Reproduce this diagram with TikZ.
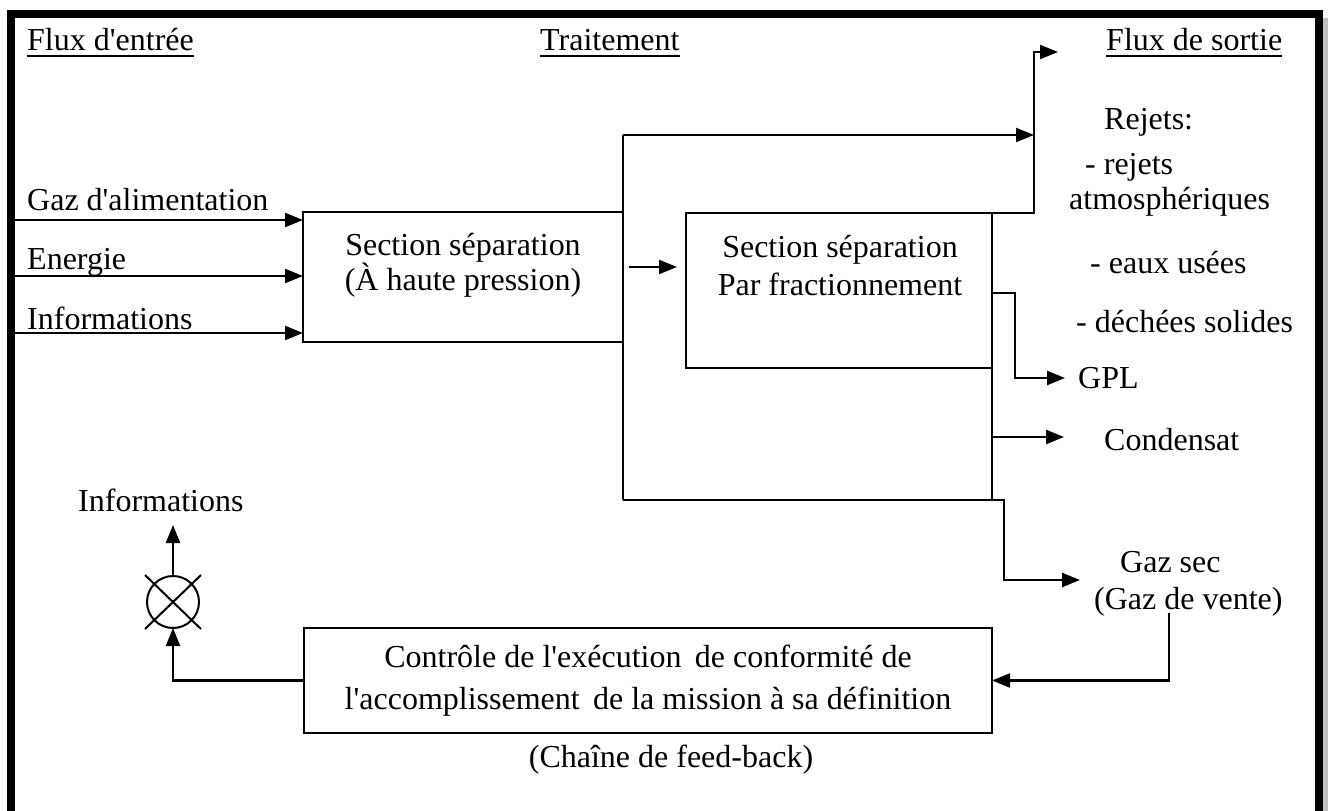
\documentclass[tikz,border=0pt]{standalone}
\usepackage{fontspec}
\setmainfont{Liberation Serif}[Ligatures=TeXOff]
\usetikzlibrary{arrows.meta}
\begin{document}
\begin{tikzpicture}[x=1pt,y=-1pt,
  ln/.style={line width=2.4pt},
  arr/.style={line width=2.4pt,-{Triangle[length=18pt,width=14pt]}},
  box/.style={draw,line width=2.4pt,inner sep=0pt,outer sep=0pt,anchor=north west},
  txt/.style={inner sep=0pt,font=\fontsize{32}{36}\selectfont},
  ul/.style={line width=2pt}]
\useasboundingbox (0,0) rectangle (1328,811);
% frame
\fill[gray!50] (1323,18) rectangle (1328,811);
\draw[line width=8pt] (11,811) -- (11,14) -- (1319,14) -- (1319,811);

% headers
\node[txt,anchor=base west] (hin) at (27,50) {Flux d'entrée};
\node[txt,anchor=base west] (htr) at (540,50) {Traitement};
\node[txt,anchor=base west] (hout) at (1106,50) {Flux de sortie};
\draw[ul] ([yshift=-6pt]hin.base west) -- ([yshift=-6pt]hin.base east);
\draw[ul] ([yshift=-6pt]htr.base west) -- ([yshift=-6pt]htr.base east);
\draw[ul] ([yshift=-6pt]hout.base west) -- ([yshift=-6pt]hout.base east);

% boxes
\node[box,minimum width=320pt,minimum height=130pt] (b1) at (303,212) {};
\node[txt,align=center,font=\fontsize{32}{35}\selectfont] (b1t) at (463,265) {Section séparation\\(À haute pression)};
\node[box,minimum width=306pt,minimum height=155pt] (b2) at (686,213) {};
\node[txt,align=center,font=\fontsize{32}{38}\selectfont] (b2t) at (840,266) {Section séparation\\Par fractionnement};
\node[box,minimum width=688pt,minimum height=105pt] (b3) at (304,628) {};
\node[txt,align=center,font=\fontsize{32}{42}\selectfont] (b3t) at (648,681) {Contrôle de l'exécution\, de conformité de\\l'accomplissement\, de la mission à sa définition};
\node[txt] (fbl) at (671,760) {(Chaîne de feed-back)};

% inputs
\node[txt,anchor=base west] (lA) at (27,210) {Gaz d'alimentation};
\node[txt,anchor=base west] (lB) at (27,269) {Energie};
\node[txt,anchor=base west] (lC) at (27,329) {Informations};
\coordinate (inA) at (15,220);
\coordinate (inB) at (15,276);
\coordinate (inC) at (15,333);
\draw[arr] (inA) -- (inA -| b1.west);
\draw[arr] (inB) -- (inB -| b1.west);
\draw[arr] (inC) -- (inC -| b1.west);

% junction after box 1
\coordinate (jT) at (623,135);
\coordinate (jB) at (623,500);
\coordinate (vR) at (1034,213);
\coordinate (vU) at (1034,52);
\coordinate (oTop) at (1058,52);
\draw[ln] (jT) -- (jB);
\draw[arr] (jT) -- (jT -| vR);
\draw[arr] (b2.north east) -- (vR) -- (vU) -- (oTop);
\coordinate (m1) at (629,267);
\coordinate (m2) at (677,267);
\draw[arr] (m1) -- (m2);

% outputs of box 2
\draw[ln] (b2.south east) -- (b2.east |- jB);
\coordinate (gK) at (1004,500);
\coordinate (gT) at (1080,580);
\draw[arr] (jB) -- (gK) |- (gT);
\coordinate (pA) at (992,293);
\coordinate (pB) at (1015,378);
\coordinate (pT) at (1065,378);
\draw[arr] (pA) -| (pB) -- (pT);
\coordinate (cA) at (992,437);
\coordinate (cT) at (1064,437);
\draw[arr] (cA) -- (cT);

% output texts
\node[txt,anchor=west] (r1) at (1104,122) {Rejets:};
\node[txt,anchor=west] (r2) at (1085,167) {- rejets};
\node[txt,anchor=west] (r3) at (1069,202) {atmosphériques};
\node[txt,anchor=west] (r4) at (1090,263) {- eaux usées};
\node[txt,anchor=west] (r5) at (1076,322) {- déchées solides};
\node[txt,anchor=west] (gpl) at (1078,378) {GPL};
\node[txt,anchor=west] (cond) at (1104,440) {Condensat};
\node[txt,anchor=west] (gs1) at (1120,562) {Gaz sec};
\node[txt,anchor=west] (gs2) at (1094,602) {(Gaz de vente)};

% feedback
\coordinate (fS) at (1169,613);
\draw[arr] (fS) |- (b3.east);
\node[draw,circle,line width=2pt,minimum size=52pt,inner sep=0pt,outer sep=0pt] (circ) at (173,602) {};
\draw[line width=2pt] ([shift={(-28,-27)}]circ.center) -- ([shift={(28,27)}]circ.center);
\draw[line width=2pt] ([shift={(-28,27)}]circ.center) -- ([shift={(28,-27)}]circ.center);
\draw[arr] (b3.west) -| (circ.south);
\coordinate (iT) at (173,525);
\draw[arr] (circ.north) -- (iT);
\node[txt,anchor=west] (info2) at (78,500) {Informations};
\end{tikzpicture}
\end{document}
